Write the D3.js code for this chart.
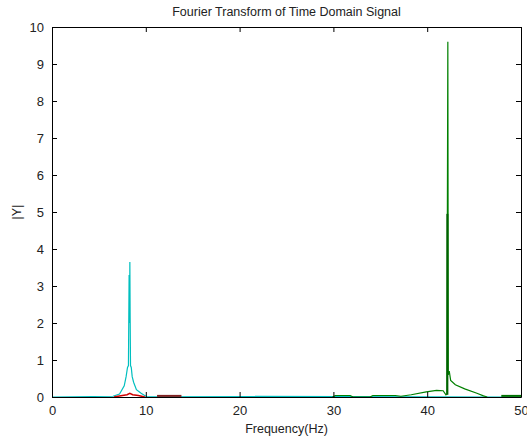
<!DOCTYPE html>
<html>
<head>
<meta charset="utf-8">
<script src="https://cdn.jsdelivr.net/npm/d3@7"></script>
<style>
  body { margin: 0; background: #fff; }
  text { font-family: "Liberation Sans", Arial, sans-serif; }
</style>
</head>
<body>
<script>
// x ticks / y ticks
const xTicks = [0, 10, 20, 30, 40, 50];
const yTicks = [0, 1, 2, 3, 4, 5, 6, 7, 8, 9, 10];

// cyan spectrum (peak near 8.3 Hz)
const cyanFreq = [0, 6.5, 7.2, 7.7, 7.9, 8.05, 8.15, 8.22, 8.27, 8.3, 8.33, 8.37, 8.45, 8.55, 8.7, 9.0, 9.5, 10, 50];
const cyanMag  = [0, 0.02, 0.08, 0.3, 0.55, 0.8, 0.85, 3.3, 2.0, 3.65, 2.2, 0.85, 0.8, 0.55, 0.4, 0.2, 0.1, 0.02, 0];

// red spectrum (small bump)
const redFreq = [6.6, 7.5, 8.0, 8.3, 8.6, 9.2, 9.9];
const redMag  = [0.0, 0.04, 0.06, 0.1, 0.06, 0.04, 0.0];

// dark red flat segment
const brownFreq = [11.2, 13.8];
const brownMag  = [0.03, 0.03];

// green spectrum (peak near 42.2 Hz)
const greenFreq = [29.9, 30.2, 31.8, 32.1, 33.9, 34.2, 36.6, 37.2, 38.3, 39.9, 41.0, 41.7, 42.0, 42.1, 42.15, 42.2, 42.25, 42.35, 42.5, 43.0, 44.0, 45.3, 46.0, 46.4];
const greenMag  = [0.0, 0.04, 0.04, 0.0, 0.0, 0.04, 0.04, 0.02, 0.06, 0.14, 0.18, 0.17, 0.06, 0.08, 4.95, 9.6, 0.6, 0.7, 0.45, 0.33, 0.22, 0.1, 0.03, 0.0];

// green tail at the right edge
const tailFreq = [47.9, 50];
const tailMag  = [0.03, 0.03];

const width = 527;
const height = 436;
const margin = {top: 27, right: 6, bottom: 39, left: 52};

const svg = d3.select("body").append("svg")
    .attr("width", width)
    .attr("height", height);

const xscale = d3.scaleLinear()
    .domain([0, 50])
    .range([margin.left, width - margin.right]);

const yscale = d3.scaleLinear()
    .domain([0, 10])
    .range([height - margin.bottom, margin.top]);

const line = d3.line()
    .x(d => xscale(d[0]))
    .y(d => yscale(d[1]));

const zip = (a, b) => a.map((v, i) => [v, b[i]]);

// white plot area
svg.append("rect")
    .attr("x", xscale(0))
    .attr("y", yscale(10))
    .attr("width", xscale(50) - xscale(0))
    .attr("height", yscale(0) - yscale(10))
    .attr("fill", "#fff");

// lines
svg.append("path")
    .attr("d", line(zip(cyanFreq, cyanMag)))
    .attr("fill", "none")
    .attr("stroke", "#00bfbf")
    .attr("stroke-width", 1.2);

svg.append("path")
    .attr("d", line(zip(redFreq, redMag)))
    .attr("fill", "none")
    .attr("stroke", "#d00000")
    .attr("stroke-width", 1.5);

svg.append("path")
    .attr("d", line(zip(brownFreq, brownMag)))
    .attr("fill", "none")
    .attr("stroke", "#802020")
    .attr("stroke-width", 2);

svg.append("path")
    .attr("d", line(zip(greenFreq, greenMag)))
    .attr("fill", "none")
    .attr("stroke", "#008000")
    .attr("stroke-width", 1.2);

// thicker lower part of the green peak
svg.append("path")
    .attr("d", line([[42.15, 0.06], [42.15, 4.95]]))
    .attr("fill", "none")
    .attr("stroke", "#006000")
    .attr("stroke-width", 2);

svg.append("path")
    .attr("d", line(zip(tailFreq, tailMag)))
    .attr("fill", "none")
    .attr("stroke", "#007000")
    .attr("stroke-width", 2);

// axes (ticks point inward, box around plot)
const tickSize = 5;
const xaxis = d3.axisBottom(xscale).tickValues(xTicks).tickSizeInner(-tickSize).tickSizeOuter(0).tickPadding(9);
const yaxis = d3.axisLeft(yscale).tickValues(yTicks).tickSizeInner(-tickSize).tickSizeOuter(0).tickPadding(8);
const xaxisTop = d3.axisTop(xscale).tickValues(xTicks).tickSizeInner(-tickSize).tickSizeOuter(0).tickFormat("");
const yaxisRight = d3.axisRight(yscale).tickValues(yTicks).tickSizeInner(-tickSize).tickSizeOuter(0).tickFormat("");

function styleAxis(g) {
    g.select(".domain").attr("stroke", "#000");
    g.selectAll(".tick line").attr("stroke", "#000");
    g.selectAll(".tick text")
        .attr("fill", "#222")
        .style("font-size", "13px")
        .style("font-family", "Liberation Sans, Arial, sans-serif");
}

svg.append("g")
    .attr("transform", `translate(0, ${height - margin.bottom})`)
    .call(xaxis).call(styleAxis);

svg.append("g")
    .attr("transform", `translate(${margin.left}, 0)`)
    .call(yaxis).call(styleAxis);

svg.append("g")
    .attr("transform", `translate(0, ${margin.top})`)
    .call(xaxisTop).call(styleAxis);

svg.append("g")
    .attr("transform", `translate(${width - margin.right}, 0)`)
    .call(yaxisRight).call(styleAxis);

// title and labels
svg.append("text")
    .attr("x", (xscale(0) + xscale(50)) / 2)
    .attr("y", 16)
    .attr("text-anchor", "middle")
    .attr("fill", "#222")
    .style("font-size", "12.5px")
    .text("Fourier Transform of Time Domain Signal");

svg.append("text")
    .attr("x", (xscale(0) + xscale(50)) / 2)
    .attr("y", 433)
    .attr("text-anchor", "middle")
    .attr("fill", "#222")
    .style("font-size", "12.5px")
    .text("Frequency(Hz)");

svg.append("text")
    .attr("transform", `translate(21, ${(yscale(0) + yscale(10)) / 2}) rotate(-90)`)
    .attr("text-anchor", "middle")
    .attr("fill", "#222")
    .style("font-size", "12.5px")
    .text("|Y|");
</script>
</body>
</html>
